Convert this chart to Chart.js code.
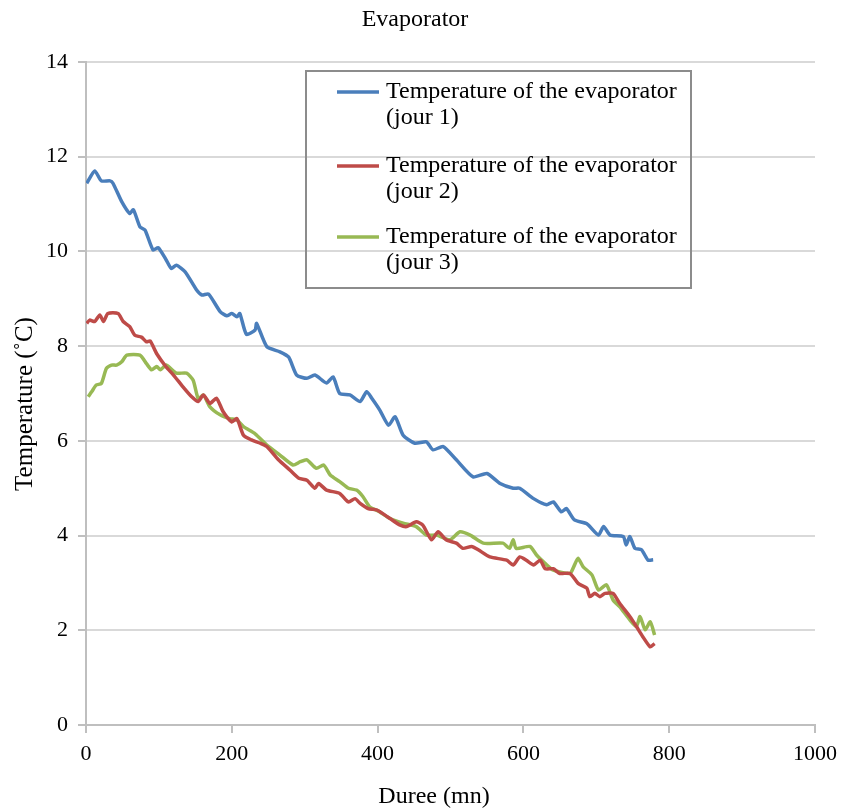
<!DOCTYPE html>
<html>
<head>
<meta charset="utf-8">
<title>Evaporator</title>
<script src="https://cdn.jsdelivr.net/npm/chart.js@4.4.0/dist/chart.umd.min.js"></script>
<style>
  html, body { margin: 0; padding: 0; background: #fff; }
  #wrap { width: 853px; height: 812px; position: relative; }
</style>
</head>
<body>
<div id="wrap"><canvas id="myChart" width="853" height="812"></canvas></div>
<script>
// duration (mn) and evaporator temperature (°C), one pair of arrays per day
var timeDay1 = [1, 12, 21, 33, 37, 49, 60, 65, 74, 81, 92, 99, 110, 117, 124, 136, 152, 159, 168, 184, 193, 200, 207, 211, 220, 232, 234, 248, 266, 278, 289, 303, 314, 330, 339, 348, 362, 376, 385, 392, 403, 415, 424, 435, 451, 467, 476, 490, 508, 531, 550, 568, 586, 595, 614, 632, 641, 652, 659, 670, 687, 703, 710, 719, 737, 741, 746, 753, 762, 771, 778];
var tempDay1 = [11.44, 11.70, 11.49, 11.49, 11.44, 11.05, 10.80, 10.88, 10.52, 10.45, 10.03, 10.08, 9.82, 9.64, 9.71, 9.57, 9.18, 9.08, 9.10, 8.73, 8.64, 8.69, 8.62, 8.69, 8.25, 8.34, 8.48, 7.99, 7.88, 7.77, 7.39, 7.32, 7.39, 7.22, 7.35, 7.00, 6.97, 6.83, 7.04, 6.90, 6.65, 6.33, 6.51, 6.12, 5.95, 5.98, 5.81, 5.88, 5.60, 5.24, 5.31, 5.10, 5.00, 5.00, 4.78, 4.65, 4.71, 4.50, 4.57, 4.33, 4.25, 4.01, 4.19, 4.01, 3.98, 3.80, 3.98, 3.73, 3.70, 3.48, 3.49];

var timeDay2 = [1, 5, 12, 19, 24, 30, 44, 51, 60, 67, 76, 83, 88, 97, 110, 120, 133, 145, 154, 161, 170, 179, 188, 200, 207, 216, 227, 239, 248, 264, 280, 292, 303, 314, 319, 330, 348, 360, 369, 376, 387, 399, 417, 431, 440, 453, 462, 474, 483, 494, 508, 517, 529, 538, 554, 577, 586, 595, 604, 614, 623, 630, 641, 650, 664, 675, 687, 691, 698, 705, 712, 723, 732, 746, 755, 764, 774, 780];
var tempDay2 = [8.48, 8.55, 8.52, 8.66, 8.52, 8.69, 8.69, 8.52, 8.41, 8.23, 8.19, 8.09, 8.11, 7.84, 7.56, 7.39, 7.14, 6.93, 6.83, 6.97, 6.79, 6.90, 6.62, 6.40, 6.47, 6.12, 6.02, 5.95, 5.88, 5.60, 5.38, 5.21, 5.17, 5.00, 5.10, 4.96, 4.89, 4.71, 4.78, 4.68, 4.57, 4.54, 4.36, 4.22, 4.19, 4.29, 4.22, 3.91, 4.08, 3.91, 3.84, 3.73, 3.77, 3.70, 3.55, 3.48, 3.38, 3.55, 3.48, 3.38, 3.48, 3.30, 3.30, 3.20, 3.20, 2.99, 2.89, 2.71, 2.78, 2.71, 2.78, 2.78, 2.57, 2.29, 2.08, 1.86, 1.65, 1.72];

var timeDay3 = [3, 8, 14, 21, 28, 35, 42, 49, 56, 74, 83, 90, 97, 102, 110, 124, 138, 147, 154, 161, 170, 184, 197, 207, 216, 232, 248, 266, 284, 294, 303, 316, 326, 335, 348, 360, 371, 380, 389, 403, 417, 435, 453, 467, 481, 499, 513, 527, 545, 572, 581, 586, 590, 609, 618, 630, 641, 664, 669, 675, 682, 694, 703, 714, 723, 732, 746, 755, 760, 767, 774, 780];
var tempDay3 = [6.93, 7.04, 7.18, 7.21, 7.53, 7.60, 7.60, 7.67, 7.81, 7.81, 7.63, 7.50, 7.57, 7.50, 7.60, 7.43, 7.43, 7.28, 6.89, 6.97, 6.72, 6.55, 6.47, 6.44, 6.30, 6.15, 5.91, 5.70, 5.49, 5.56, 5.60, 5.42, 5.49, 5.28, 5.14, 5.00, 4.96, 4.82, 4.61, 4.50, 4.36, 4.26, 4.19, 4.01, 4.01, 3.91, 4.08, 4.01, 3.84, 3.84, 3.73, 3.91, 3.73, 3.77, 3.59, 3.41, 3.27, 3.20, 3.34, 3.52, 3.34, 3.17, 2.85, 2.96, 2.64, 2.50, 2.22, 2.08, 2.29, 2.01, 2.18, 1.90];

var seriesLabels = ['Temperature of the evaporator (jour 1)', 'Temperature of the evaporator (jour 2)', 'Temperature of the evaporator (jour 3)'];
var seriesColors = ['#4a7ebb', '#be4b48', '#98b954'];

var xTicks = [0, 200, 400, 600, 800, 1000];
var yTicks = [0, 2, 4, 6, 8, 10, 12, 14];

function toPoints(xs, ys) {
  return xs.map(function (x, i) { return { x: x, y: ys[i] }; });
}

var serif = '"Liberation Serif", "Times New Roman", serif';

// title, axis titles and the boxed legend are painted by hand
var decorations = {
  id: 'decorations',
  afterDraw: function (chart) {
    var ctx = chart.ctx;
    ctx.save();
    ctx.fillStyle = '#000';
    ctx.font = '24px ' + serif;
    ctx.textAlign = 'center';
    ctx.textBaseline = 'middle';
    ctx.fillText('Evaporator', 415, 20);
    ctx.fillText('Duree (mn)', 434, 797);

    ctx.save();
    ctx.translate(25, 404);
    ctx.rotate(-Math.PI / 2);
    ctx.font = '25px ' + serif;
    ctx.fillText('Temperature (\u02DAC)', 0, 0);
    ctx.restore();

    // legend box
    ctx.strokeStyle = '#8c8c8c';
    ctx.lineWidth = 2;
    ctx.strokeRect(306, 71, 385, 217);

    var rows = [92, 166, 237];
    ctx.textAlign = 'left';
    ctx.font = '24px ' + serif;
    rows.forEach(function (y, i) {
      ctx.strokeStyle = seriesColors[i];
      ctx.lineWidth = 3.5;
      ctx.beginPath();
      ctx.moveTo(337, y);
      ctx.lineTo(379, y);
      ctx.stroke();
      ctx.fillText('Temperature of the evaporator', 386, y);
      ctx.fillText('(jour ' + (i + 1) + ')', 386, y + 26);
    });
    ctx.restore();
  }
};

var ctx = document.getElementById('myChart');
var myChart = new Chart(ctx, {
  type: 'line',
  data: {
    datasets: [
      { label: seriesLabels[0], data: toPoints(timeDay1, tempDay1), borderColor: seriesColors[0] },
      { label: seriesLabels[1], data: toPoints(timeDay2, tempDay2), borderColor: seriesColors[1] },
      { label: seriesLabels[2], data: toPoints(timeDay3, tempDay3), borderColor: seriesColors[2] }
    ]
  },
  options: {
    responsive: false,
    animation: false,
    layout: { padding: { top: 62, right: 38, left: 0, bottom: 0 } },
    elements: {
      line: { borderWidth: 3.5, tension: 0.2, fill: false },
      point: { radius: 0 }
    },
    plugins: {
      legend: { display: false },
      title: { display: false },
      tooltip: { enabled: false }
    },
    scales: {
      x: {
        type: 'linear',
        min: 0,
        max: 1000,
        afterFit: function (scale) { scale.height = 87; },
        afterBuildTicks: function (scale) {
          scale.ticks = xTicks.map(function (v) { return { value: v }; });
        },
        grid: { drawOnChartArea: false, drawTicks: true, tickLength: 8, color: '#bfbfbf', lineWidth: 2 },
        border: { color: '#bfbfbf', width: 2 },
        ticks: {
          color: '#000', font: { family: serif, size: 22 }, padding: 8, maxRotation: 0,
          callback: function (v) { return String(v); }
        }
      },
      y: {
        min: 0,
        max: 14,
        afterFit: function (scale) { scale.width = 86; },
        afterBuildTicks: function (scale) {
          scale.ticks = yTicks.map(function (v) { return { value: v }; });
        },
        grid: { color: '#d9d9d9', lineWidth: 2, tickLength: 8, tickColor: '#bfbfbf' },
        border: { color: '#bfbfbf', width: 2 },
        ticks: {
          color: '#000', font: { family: serif, size: 22 }, padding: 10,
          callback: function (v) { return String(v); }
        }
      }
    }
  },
  plugins: [decorations]
});
</script>
</body>
</html>
